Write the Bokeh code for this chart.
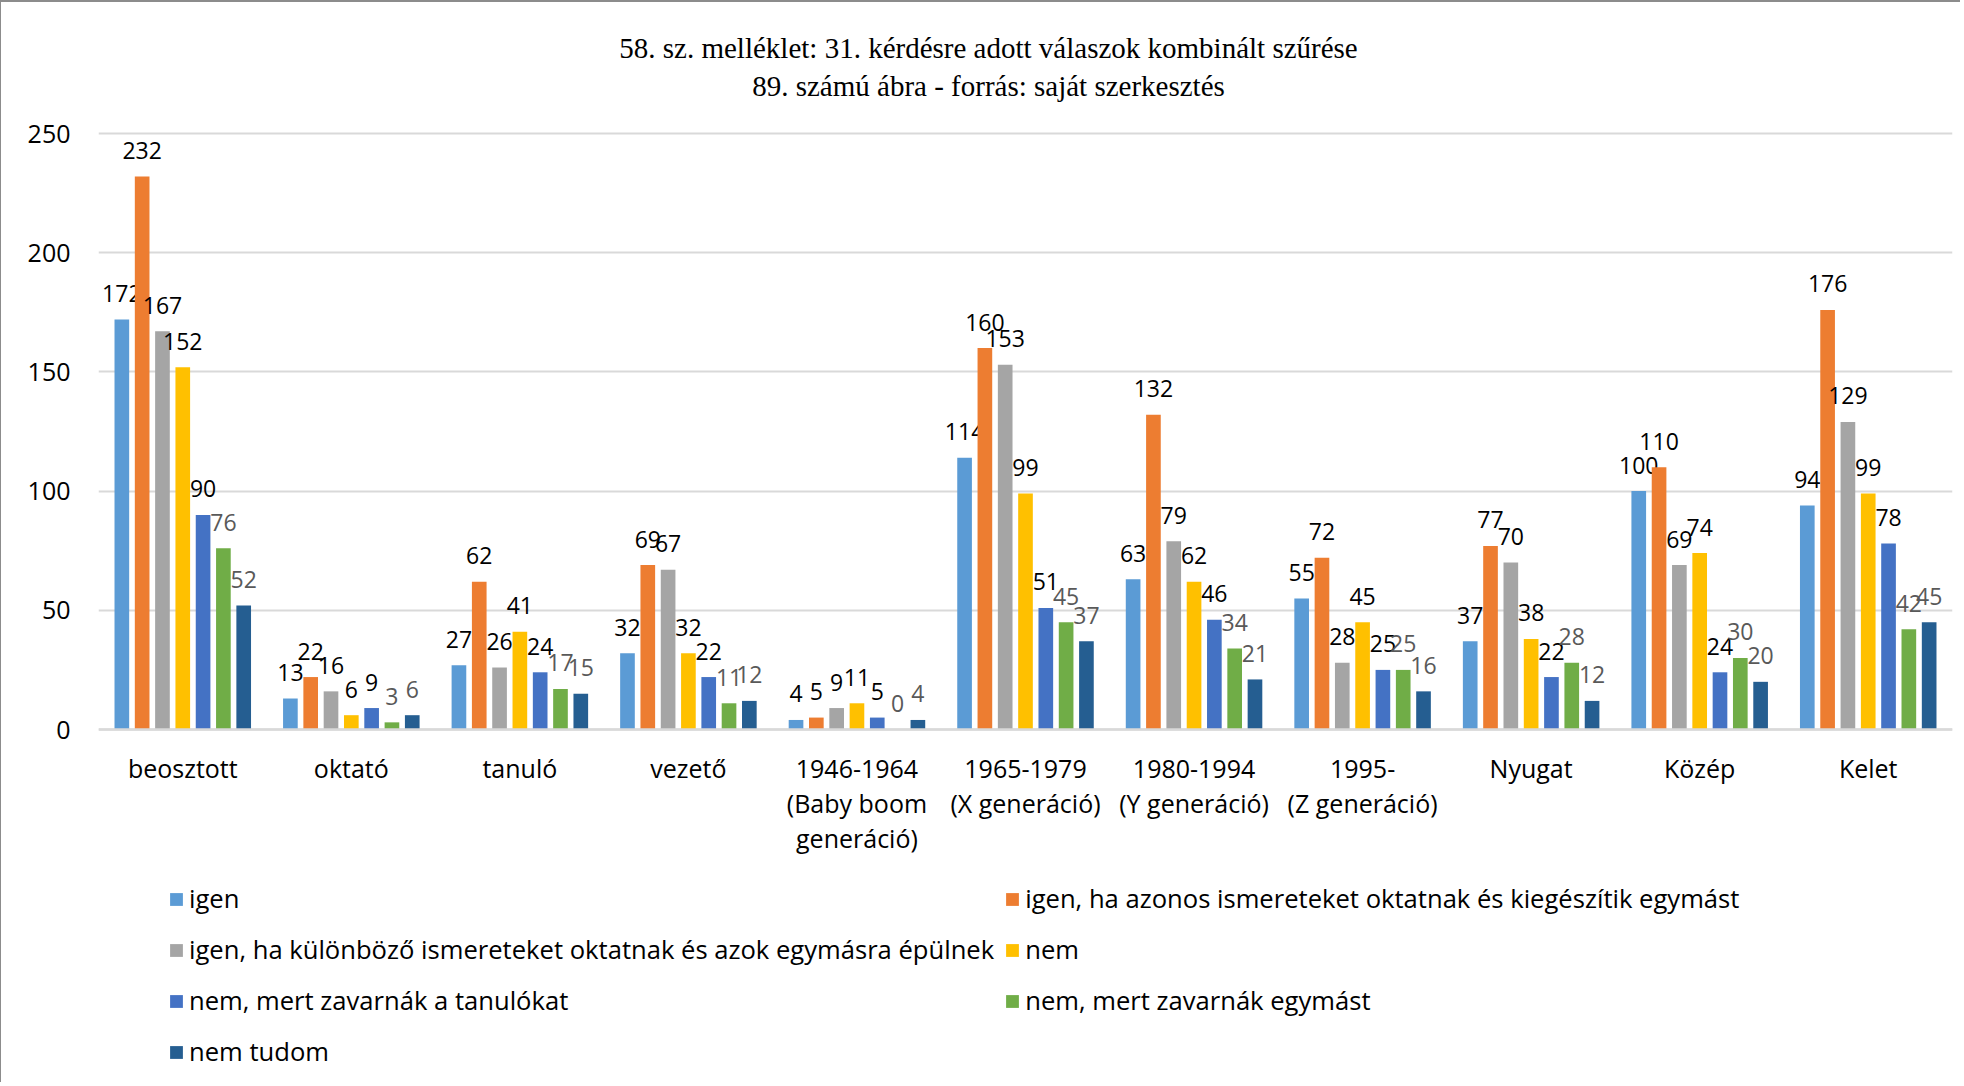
from bokeh.plotting import figure
from bokeh.models import (FactorRange, ColumnDataSource, Legend, LegendItem, Label,
                          FixedTicker, Range1d, Span)
from bokeh.transform import dodge
from bokeh.embed import file_html
from bokeh.resources import INLINE
from bokeh.core.properties import value

categories = ["beosztott", "oktató", "tanuló", "vezető",
              "1946-1964\n(Baby boom\ngeneráció)", "1965-1979\n(X generáció)",
              "1980-1994\n(Y generáció)", "1995-\n(Z generáció)",
              "Nyugat", "Közép", "Kelet"]

series_names = [
    "igen",
    "igen, ha azonos ismereteket oktatnak és kiegészítik egymást",
    "igen, ha különböző ismereteket oktatnak és azok egymásra épülnek",
    "nem",
    "nem, mert zavarnák a tanulókat",
    "nem, mert zavarnák egymást",
    "nem tudom",
]

igen = [172, 13, 27, 32, 4, 114, 63, 55, 37, 100, 94]
igen_azonos = [232, 22, 62, 69, 5, 160, 132, 72, 77, 110, 176]
igen_kulonbozo = [167, 16, 26, 67, 9, 153, 79, 28, 70, 69, 129]
nem = [152, 6, 41, 32, 11, 99, 62, 45, 38, 74, 99]
nem_tanulokat = [90, 9, 24, 22, 5, 51, 46, 25, 22, 24, 78]
nem_egymast = [76, 3, 17, 11, 0, 45, 34, 25, 28, 30, 42]
nem_tudom = [52, 6, 15, 12, 4, 37, 21, 16, 12, 20, 45]

y_ticks = [0, 50, 100, 150, 200, 250]

title_line1 = "58. sz. melléklet: 31. kérdésre adott válaszok kombinált szűrése"
title_line2 = "89. számú ábra - forrás: saját szerkesztés"

series_values = [igen, igen_azonos, igen_kulonbozo, nem, nem_tanulokat, nem_egymast, nem_tudom]
colors = ["#5B9BD5", "#ED7D31", "#A5A5A5", "#FFC000", "#4472C4", "#70AD47", "#255E91"]
label_colors = ["#000000", "#000000", "#000000", "#000000", "#000000", "#595959", "#595959"]

SANS = "Open Sans"

# layout (pixels)
W, H = 1960, 1082
LEFT, RIGHT = 97, 9
Y_MAX = 250
PX_TOP = 131        # from top of frame to the 250 gridline
PX_ZERO = 727       # from top of frame to the zero line
px_per_unit = (PX_ZERO - PX_TOP) / Y_MAX
y_lo = -(H - PX_ZERO) / px_per_unit
y_hi = Y_MAX + PX_TOP / px_per_unit

p = figure(x_range=FactorRange(factors=categories, range_padding=0),
           y_range=Range1d(y_lo, y_hi),
           width=W, height=H, x_axis_location=None,
           output_backend="svg", toolbar_location=None,
           min_border_left=LEFT, min_border_right=RIGHT,
           min_border_top=0, min_border_bottom=0,
           styles={"border-left": "1px solid #8c8c8c", "border-top": "2px solid #8c8c8c"})

p.outline_line_color = None
p.background_fill_color = "white"
p.border_fill_color = "white"

# gridlines + baseline
p.xgrid.grid_line_color = None
p.ygrid.ticker = FixedTicker(ticks=y_ticks)
p.ygrid.grid_line_color = "#D9D9D9"
p.ygrid.grid_line_width = 2
p.add_layout(Span(location=0, dimension="width", line_color="#D9D9D9", line_width=2.5))

pitch = 0.1205
bw = 0.087
items = []
for i, (name, vals) in enumerate(zip(series_names, series_values)):
    src = ColumnDataSource(dict(cat=categories, val=vals, lbl=[str(v) for v in vals]))
    off = (i - 3) * pitch
    r = p.vbar(x=dodge("cat", off, range=p.x_range), top="val", width=bw, source=src,
               fill_color=colors[i], line_color=None)
    p.text(x=dodge("cat", off, range=p.x_range), y="val", text="lbl", source=src,
           text_align="center", text_baseline="middle", y_offset=-26,
           text_font=value(SANS), text_font_size="23px", text_color=label_colors[i])
    items.append(LegendItem(label=name, renderers=[r]))

# category labels
cat_src = ColumnDataSource(dict(cat=categories, y=[0] * len(categories)))
p.text(x="cat", y="y", text="cat", source=cat_src, text_align="center",
       text_baseline="top", y_offset=21, text_line_height=1.03,
       text_font=value(SANS), text_font_size="25px", text_color="#000000")

# y axis
p.yaxis.ticker = FixedTicker(ticks=y_ticks)
p.yaxis.axis_line_color = None
p.yaxis.major_tick_line_color = None
p.yaxis.minor_tick_line_color = None
p.yaxis.major_label_text_font = SANS
p.yaxis.major_label_text_font_size = "25px"
p.yaxis.major_label_text_color = "#000000"
p.yaxis.major_label_standoff = 22

# legend
legend = Legend(items=items, orientation="horizontal", ncols=2,
                location=(70, 12), padding=0, margin=0, border_line_color=None,
                background_fill_alpha=0, label_text_font=SANS, label_text_font_size="25.6px",
                label_text_color="#000000", glyph_width=16, glyph_height=16,
                label_standoff=5, label_height=41, spacing=10)
p.add_layout(legend, "center")

# titles
frame_w = W - LEFT - RIGHT
for txt, dx, dy in [(title_line1, -37, 47), (title_line2, -37, 85)]:
    p.add_layout(Label(x=frame_w / 2 + dx, y=H + 2 - dy, x_units="screen", y_units="screen",
                       text=txt, text_align="center", text_baseline="middle",
                       text_font="Liberation Serif", text_font_size="29px",
                       text_color="#000000"))

open("out.html", "w").write(file_html(p, INLINE))
